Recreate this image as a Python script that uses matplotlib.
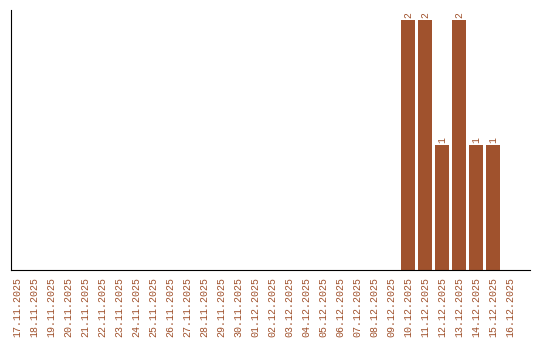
import numpy as np
import pandas as pd
import matplotlib.pyplot as plt

# daily counts 17.11.2025 - 16.12.2025
dates = pd.date_range('2025-11-17', '2025-12-16', freq='D')
labels = [d.strftime('%d.%m.%Y') for d in dates]
counts = [0] * 23 + [2, 2, 1, 2, 1, 1, 0]

barColor = '#a0522d'
monoFont = 'Liberation Mono'

fig = plt.figure(figsize=(5.4, 3.4), dpi=100)
ax = fig.add_axes([0.0204, 0.206, 0.9611, 0.765])

pos = np.arange(len(labels))
ax.bar(pos, counts, width=0.82, color=barColor)

for p, c in zip(pos, counts):
    if c > 0:
        ax.text(p, c + 0.015, str(c), rotation=90, ha='center', va='bottom',
                fontsize=7, family=monoFont, color=barColor)

ax.set_xlim(-0.35, 30.18)
ax.set_ylim(0, 2.08)
ax.set_xticks(pos)
ax.set_xticklabels(labels, rotation=90, fontsize=7.2, family=monoFont, color=barColor)
ax.tick_params(axis='x', length=0, pad=5)
ax.set_yticks([])
ax.spines['top'].set_visible(False)
ax.spines['right'].set_visible(False)

plt.savefig('out.png', dpi=100)
